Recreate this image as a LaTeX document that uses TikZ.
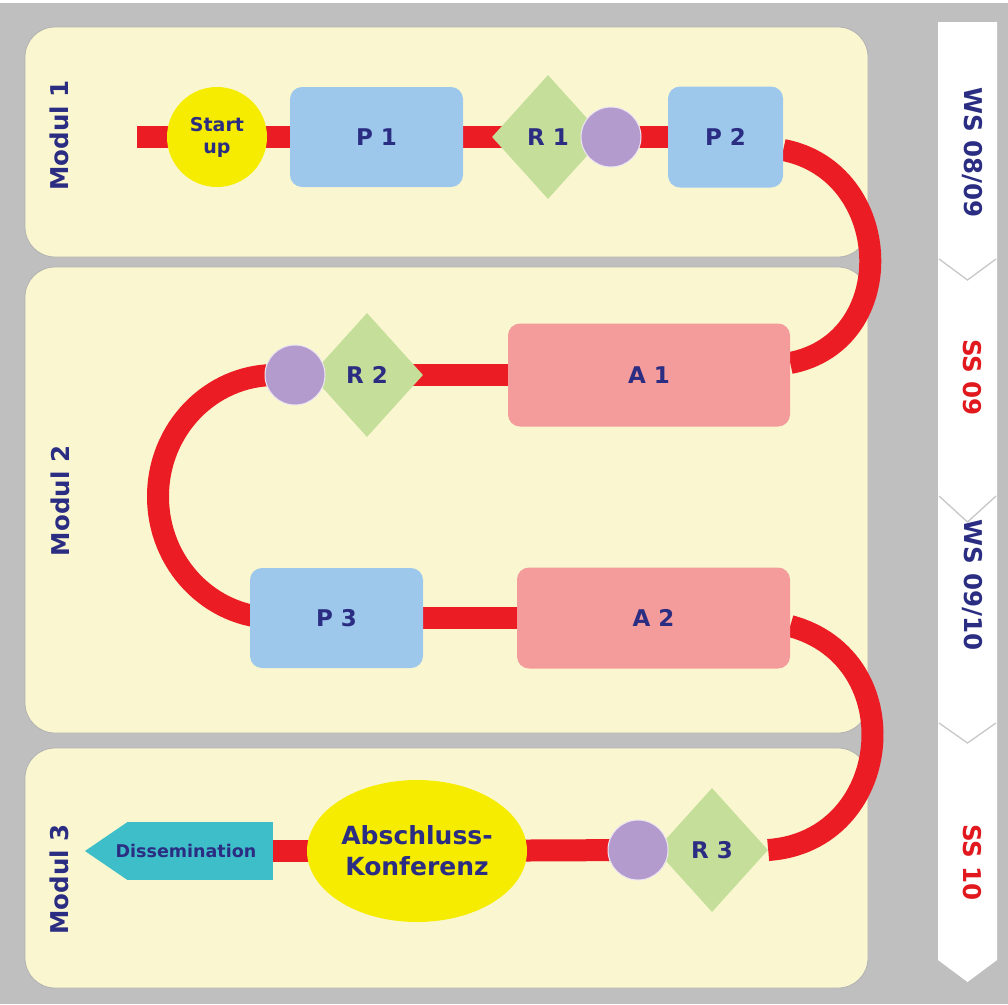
\documentclass[tikz,border=0pt]{standalone}
\usepackage{fontspec}
\setmainfont{DejaVu Sans}
\usetikzlibrary{shapes.geometric,calc}
\definecolor{bggray}{RGB}{191,191,191}
\definecolor{panelyel}{RGB}{250,247,208}
\definecolor{pblue}{RGB}{157,200,236}
\definecolor{apink}{RGB}{244,155,155}
\definecolor{rgreen}{RGB}{197,223,155}
\definecolor{cpurple}{RGB}{180,155,205}
\definecolor{syellow}{RGB}{245,236,0}
\definecolor{pathred}{RGB}{236,28,36}
\definecolor{dteal}{RGB}{62,190,200}
\definecolor{navy}{RGB}{43,45,130}
\definecolor{lblred}{RGB}{225,25,30}
\pgfdeclarelayer{panels}
\pgfdeclarelayer{lines}
\pgfsetlayers{panels,lines,main}
\tikzset{
  txt/.style={font=\bfseries\fontsize{23}{26}\selectfont, text=navy},
  pbox/.style={rectangle, rounded corners=12pt, fill=pblue, inner sep=0pt, txt},
  abox/.style={rectangle, rounded corners=12pt, fill=apink, inner sep=0pt, txt},
  rdia/.style={diamond, fill=rgreen, minimum width=112pt, minimum height=124pt, inner sep=0pt, txt},
  circ/.style={circle, fill=cpurple, draw=white!75!cpurple, line width=1pt, minimum size=60pt, inner sep=0pt},
  redline/.style={draw=pathred, line width=22pt},
  modlbl/.style={rotate=90, font=\bfseries\fontsize{24.5}{28}\selectfont, text=navy},
  semlbl/.style={rotate=-90, font=\bfseries\fontsize{24.5}{28}\selectfont},
  panelbox/.style={fill=panelyel, draw=black!30, line width=0.8pt, rounded corners=30pt},
  chev/.style={draw=black!22, line width=1.3pt}
}
\begin{document}
\begin{tikzpicture}[x=1pt,y=1pt]
\useasboundingbox (0,0) rectangle (1008,-1004);
\begin{pgfonlayer}{panels}
  \fill[bggray] (0,0) rectangle (1008,-1004);
  \fill[white] (0,0) rectangle (1008,-3);
  \path[panelbox] (25,-27) rectangle (868,-257);
  \path[panelbox] (25,-267) rectangle (868,-733);
  \path[panelbox] (25,-748) rectangle (868,-988);
  % semester strip
  \fill[white] (938,-22) -- (997,-22) -- (997,-960) -- (967.5,-982) -- (938,-960) -- cycle;
  \draw[chev] (939,-259) -- (967.5,-280) -- (996,-259);
  \draw[chev] (939,-496) -- (967.5,-522) -- (996,-496);
  \draw[chev] (939,-723) -- (967.5,-743) -- (996,-723);
\end{pgfonlayer}

% module labels
\node[modlbl] (m1) at (59,-135.5) {Modul 1};
\node[modlbl] (m2) at (60,-501) {Modul 2};
\node[modlbl] (m3) at (59,-879.5) {Modul 3};

% semester labels
\node[semlbl, text=navy] (s1) at (972,-152.5) {WS 08/09};
\node[semlbl, text=lblred] (s2) at (972,-377.5) {SS 09};
\node[semlbl, text=navy] (s3) at (972,-585) {WS 09/10};
\node[semlbl, text=lblred] (s4) at (972,-862.5) {SS 10};

% row 1
\coordinate (begin) at (137,-137);
\node[circle, fill=syellow, minimum size=100pt, inner sep=0pt, align=center,
      font=\bfseries\fontsize{19}{22}\selectfont, text=navy] (start) at (217,-137) {Start\\up};
\node[pbox, minimum width=173pt, minimum height=100pt] (P1) at (376.5,-137) {P 1};
\node[rdia] (R1) at (548,-137) {R 1};
\node[circ] (c1) at (611,-137) {};
\node[pbox, minimum width=115pt, minimum height=101pt] (P2) at (725.5,-137) {P 2};

% row 2
\node[abox, minimum width=282pt, minimum height=103pt] (A1) at (649,-375) {A 1};
\node[rdia] (R2) at (367,-375) {R 2};
\node[circ] (c2) at (295,-375) {};

% row 3
\node[pbox, minimum width=173pt, minimum height=100pt] (P3) at (336.5,-618) {P 3};
\node[abox, minimum width=273pt, minimum height=101pt] (A2) at (653.5,-618) {A 2};

% row 4
\node[rdia] (R3) at (712,-850) {R 3};
\node[circ] (c3) at (638,-850) {};
\node[ellipse, fill=syellow, minimum width=220pt, minimum height=142pt, inner sep=0pt, align=center,
      font=\bfseries\fontsize{25}{31}\selectfont, text=navy] (conf) at (417,-851) {Abschluss-\\Konferenz};
\node[rectangle, fill=dteal, minimum width=145pt, minimum height=58pt, inner sep=0pt] (dis) at (200.5,-851) {};
\fill[dteal] (dis.north west) -- (85,-851) -- (dis.south west) -- cycle;
\node[font=\bfseries\fontsize{17.5}{20}\selectfont, text=navy] (distext) at (186,-851) {Dissemination};

% connectors
\begin{pgfonlayer}{lines}
  \draw[redline] (begin) -- (start.center);
  \draw[redline] (start.center) -- (P1.center);
  \draw[redline] (P1.center) -- (R1.center);
  \draw[redline] (R1.center) -- (c1.center);
  \draw[redline] (c1.center) -- (P2.center);
  \draw[redline] ([yshift=-13pt]P2.east) to[out=-11, in=11, looseness=1.36] ([yshift=12pt]A1.east);
  \draw[redline] (A1.center) -- (R2.center);
  \draw[redline] (R2.center) -- (c2.center);
  \draw[redline] (c2.center) -- ([xshift=-20pt]c2.center)
        arc[start angle=90, end angle=270, x radius=117, y radius=121.5] -- (P3.center);
  \draw[redline] (P3.center) -- (A2.center);
  \draw[redline] ([yshift=-8pt]A2.east) to[out=-15, in=4, looseness=1.43] (R3.east);
  \draw[redline] (R3.center) -- (c3.center);
  \draw[redline] (c3.center) -- (conf.center);
  \draw[redline] (conf.center) -- (dis.center);
\end{pgfonlayer}
\end{tikzpicture}
\end{document}
